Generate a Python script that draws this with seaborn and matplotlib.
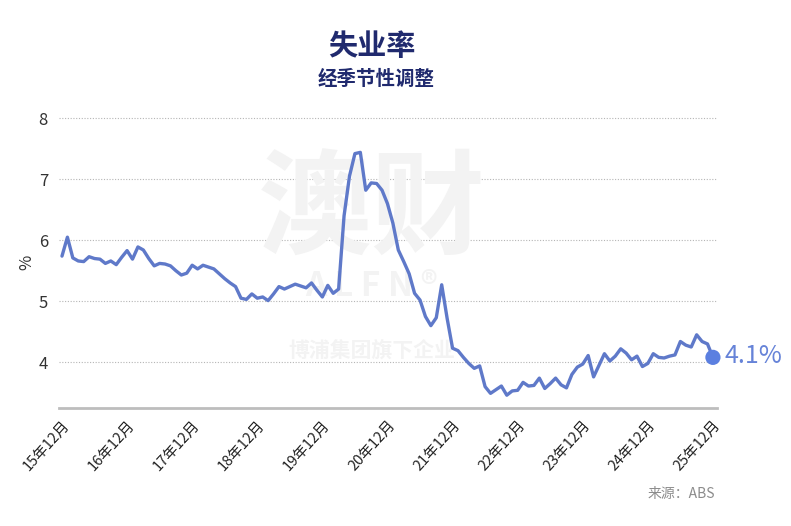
import numpy as np
import pandas as pd
import matplotlib
matplotlib.use("Agg")
import matplotlib.pyplot as plt
import seaborn as sns

# ---- data (monthly, Dec 2015 .. Dec 2025) ----
rate = [5.74, 6.05, 5.71, 5.66, 5.65, 5.73, 5.70, 5.69, 5.62, 5.66, 5.60, 5.72,
        5.83, 5.69, 5.89, 5.84, 5.70, 5.58, 5.62, 5.61, 5.58, 5.50, 5.43, 5.46,
        5.59, 5.53, 5.59, 5.56, 5.53, 5.45, 5.37, 5.30, 5.24, 5.05, 5.03, 5.12,
        5.05, 5.07, 5.01, 5.12, 5.24, 5.20, 5.24, 5.28, 5.25, 5.22, 5.30, 5.18,
        5.07, 5.26, 5.13, 5.20, 6.40, 7.05, 7.42, 7.44, 6.82, 6.94, 6.93, 6.82,
        6.60, 6.28, 5.84, 5.65, 5.45, 5.13, 5.02, 4.75, 4.60, 4.73, 5.27, 4.72,
        4.23, 4.19, 4.08, 3.98, 3.90, 3.94, 3.60, 3.49, 3.55, 3.61, 3.46, 3.53,
        3.54, 3.67, 3.61, 3.62, 3.74, 3.57, 3.65, 3.74, 3.63, 3.58, 3.80, 3.92,
        3.97, 4.11, 3.76, 3.95, 4.14, 4.02, 4.10, 4.22, 4.15, 4.04, 4.10, 3.93,
        3.98, 4.14, 4.08, 4.07, 4.10, 4.12, 4.34, 4.28, 4.25, 4.45, 4.34, 4.30,
        4.08]
tick_labels = ["15年12月", "16年12月", "17年12月", "18年12月", "19年12月", "20年12月",
               "21年12月", "22年12月", "23年12月", "24年12月", "25年12月"]
y_ticks = [4, 5, 6, 7, 8]
title = "失业率"
subtitle = "经季节性调整"
source = "来源：ABS"
last_label = "4.1%"

df = pd.DataFrame({"month": np.arange(len(rate)), "rate": rate})

sns.set_theme(style="white")
plt.rcParams["font.family"] = ["Noto Sans CJK SC", "DejaVu Sans"]

fig = plt.figure(figsize=(7.91, 5.26), dpi=100)
ax = fig.add_axes([59 / 791, 1 - 408 / 526, (717 - 59) / 791, (408 - 117) / 526])

# watermark (very faint, beneath the line)
wm = "#f3f3f3"
ax.text(372 / 791, 1 - 212 / 526, "澳财", fontsize=82, fontweight="black",
        color=wm, ha="center", va="center", zorder=1, transform=fig.transFigure)
ax.text(372 / 791, 1 - 286 / 526, "A L F N ®", fontsize=24, fontweight="bold",
        color=wm, ha="center", va="center", zorder=1, transform=fig.transFigure)
ax.text(372 / 791, 1 - 350 / 526, "博浦集团旗下企业", fontsize=15, fontweight="bold",
        color=wm, ha="center", va="center", zorder=1, transform=fig.transFigure)

line_color = "#5f79c9"
sns.lineplot(data=df, x="month", y="rate", ax=ax, color=line_color, linewidth=2.4,
             zorder=3)
last = df.iloc[[-1]]
sns.scatterplot(data=last, x="month", y="rate", ax=ax, color="#5b7fe0", s=120,
                edgecolor="none", zorder=4, clip_on=False)
ax.annotate(last_label, xy=(last["month"].iloc[0], last["rate"].iloc[0]),
            xytext=(8, 1), textcoords="offset points", color="#6683d8",
            fontsize=18, fontweight="medium", va="center", ha="left",
            annotation_clip=False)

ax.set_xlim(-0.55, 120.75)
ax.set_ylim(3.25, 8.02)
ax.set_yticks(y_ticks)
ax.set_yticklabels([str(v) for v in y_ticks], fontsize=12, color="#333333")
ax.set_xticks(np.arange(0, len(rate), 12))
ax.set_xticklabels(tick_labels, rotation=48, ha="right", rotation_mode="anchor",
                   fontsize=10.5, color="#222222")
ax.tick_params(axis="x", length=0, pad=7)
ax.tick_params(axis="y", length=0, pad=8)
ax.set_xlabel("")
ax.set_ylabel("%", fontsize=12, color="#333333", labelpad=2)

ax.grid(axis="y", linestyle=(0, (1, 1.5)), color="#b5b5b5", linewidth=0.8)
ax.grid(axis="x", visible=False)
for s in ["top", "right", "left"]:
    ax.spines[s].set_visible(False)
ax.spines["bottom"].set_color("#bdbdbd")
ax.spines["bottom"].set_linewidth(2)

fig.text(372 / 791, 1 - 46 / 526, title, fontsize=21, fontweight="bold",
         color="#202a6e", ha="center", va="center")
fig.text(376 / 791, 1 - 79 / 526, subtitle, fontsize=14, fontweight="bold",
         color="#202a6e", ha="center", va="center")
fig.text(715 / 791, 1 - 494 / 526, source, fontsize=10, color="#8c8c8c",
         ha="right", va="center")

fig.savefig("out.png", dpi=100)
